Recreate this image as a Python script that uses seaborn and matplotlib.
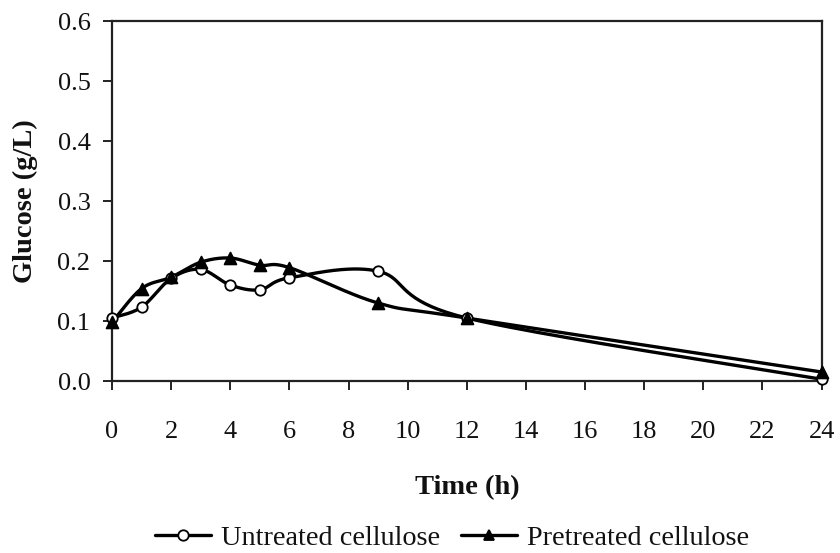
import numpy as np
import pandas as pd
import matplotlib
matplotlib.use("Agg")
import matplotlib.pyplot as plt
from matplotlib.lines import Line2D
import seaborn as sns

# Sampling times (h) and glucose concentrations (g/L)
time_h = [0, 1, 2, 3, 4, 5, 6, 9, 12, 24]
untreated = [0.105, 0.123, 0.171, 0.186, 0.160, 0.152, 0.172, 0.183, 0.105, 0.003]
pretreated = [0.098, 0.154, 0.173, 0.198, 0.205, 0.193, 0.189, 0.130, 0.105, 0.015]
series_names = ["Untreated cellulose", "Pretreated cellulose"]
x_ticks = list(range(0, 25, 2))
y_ticks = [0.0, 0.1, 0.2, 0.3, 0.4, 0.5, 0.6]

X_MAX, Y_MAX = 24, 0.6


def smooth_curve(xs, ys, n=40):
    """Bezier smoothing through the points (Catmull-Rom style control points)."""
    px = np.asarray(xs, float) / X_MAX * 709
    py = np.asarray(ys, float) / Y_MAX * 360
    pts = np.column_stack([px, py])
    out = []
    for i in range(len(pts) - 1):
        p0 = pts[i - 1] if i > 0 else pts[i]
        p1, p2 = pts[i], pts[i + 1]
        p3 = pts[i + 2] if i + 2 < len(pts) else pts[i + 1]
        c1 = p1 + (p2 - p0) / 6.0
        c2 = p2 - (p3 - p1) / 6.0
        t = np.linspace(0, 1, n)[:, None]
        seg = ((1 - t) ** 3) * p1 + 3 * ((1 - t) ** 2) * t * c1 + 3 * (1 - t) * t ** 2 * c2 + t ** 3 * p2
        out.append(seg if i == 0 else seg[1:])
    out = np.vstack(out)
    return out[:, 0] / 709 * X_MAX, out[:, 1] / 360 * Y_MAX


sns.set_style("white")
plt.rcParams["font.family"] = ["Liberation Serif", "DejaVu Serif"]

fig = plt.figure(figsize=(8.4, 5.53), dpi=100)
ax = fig.add_axes([0.1333, 0.311, 0.8448, 0.651])

styles = {
    "Untreated cellulose": dict(marker="o", mfc="white", ms=7.5),
    "Pretreated cellulose": dict(marker="^", mfc="black", ms=8.5),
}

for name, vals in zip(series_names, [untreated, pretreated]):
    sx, sy = smooth_curve(time_h, vals)
    curve = pd.DataFrame({"t": sx, "g": sy})
    sns.lineplot(data=curve, x="t", y="g", ax=ax, color="black", lw=2.4,
                 sort=False, estimator=None, zorder=2)
    pts = pd.DataFrame({"t": time_h, "g": vals})
    st = styles[name]
    sns.scatterplot(data=pts, x="t", y="g", ax=ax, marker=st["marker"],
                    s=st["ms"] ** 2, facecolor=st["mfc"], edgecolor="black",
                    linewidth=1.3, zorder=3, clip_on=False)

ax.set_xlim(0, X_MAX)
ax.set_ylim(0, Y_MAX)
ax.set_xticks(x_ticks)
ax.set_xticklabels([str(v) for v in x_ticks])
ax.set_yticks(y_ticks)
ax.set_yticklabels([f"{v:.1f}" for v in y_ticks])

for side in ["left", "right", "top", "bottom"]:
    ax.spines[side].set_visible(True)
    ax.spines[side].set_color("#222222")
    ax.spines[side].set_linewidth(1.6)

ax.tick_params(axis="both", which="major", direction="out", length=6.5,
               width=1.4, color="#222222", labelsize=19, labelcolor="#111111")
ax.tick_params(axis="y", pad=9)
ax.tick_params(axis="x", pad=22)
ax.tick_params(left=True, bottom=True)

ax.set_xlabel("Time (h)", fontsize=20.5, fontweight="bold", color="#111111")
ax.set_ylabel("Glucose (g/L)", fontsize=20.5, fontweight="bold", color="#111111")
ax.xaxis.set_label_coords(0.501, -0.262)
ax.yaxis.set_label_coords(-0.104, 0.5)

handles = [
    Line2D([], [], color="black", lw=2.4, marker="o", mfc="white", mec="black",
           ms=7.5, mew=1.3),
    Line2D([], [], color="black", lw=2.4, marker="^", mfc="black", mec="black",
           ms=7.5, mew=1.3),
]
fig.legend(handles, series_names, loc="center", bbox_to_anchor=(0.538, 0.027),
           ncol=2, frameon=False, fontsize=20.3, handlelength=2.0,
           handletextpad=0.36, columnspacing=0.72, labelcolor="#111111")

fig.savefig("out.png", dpi=100)
